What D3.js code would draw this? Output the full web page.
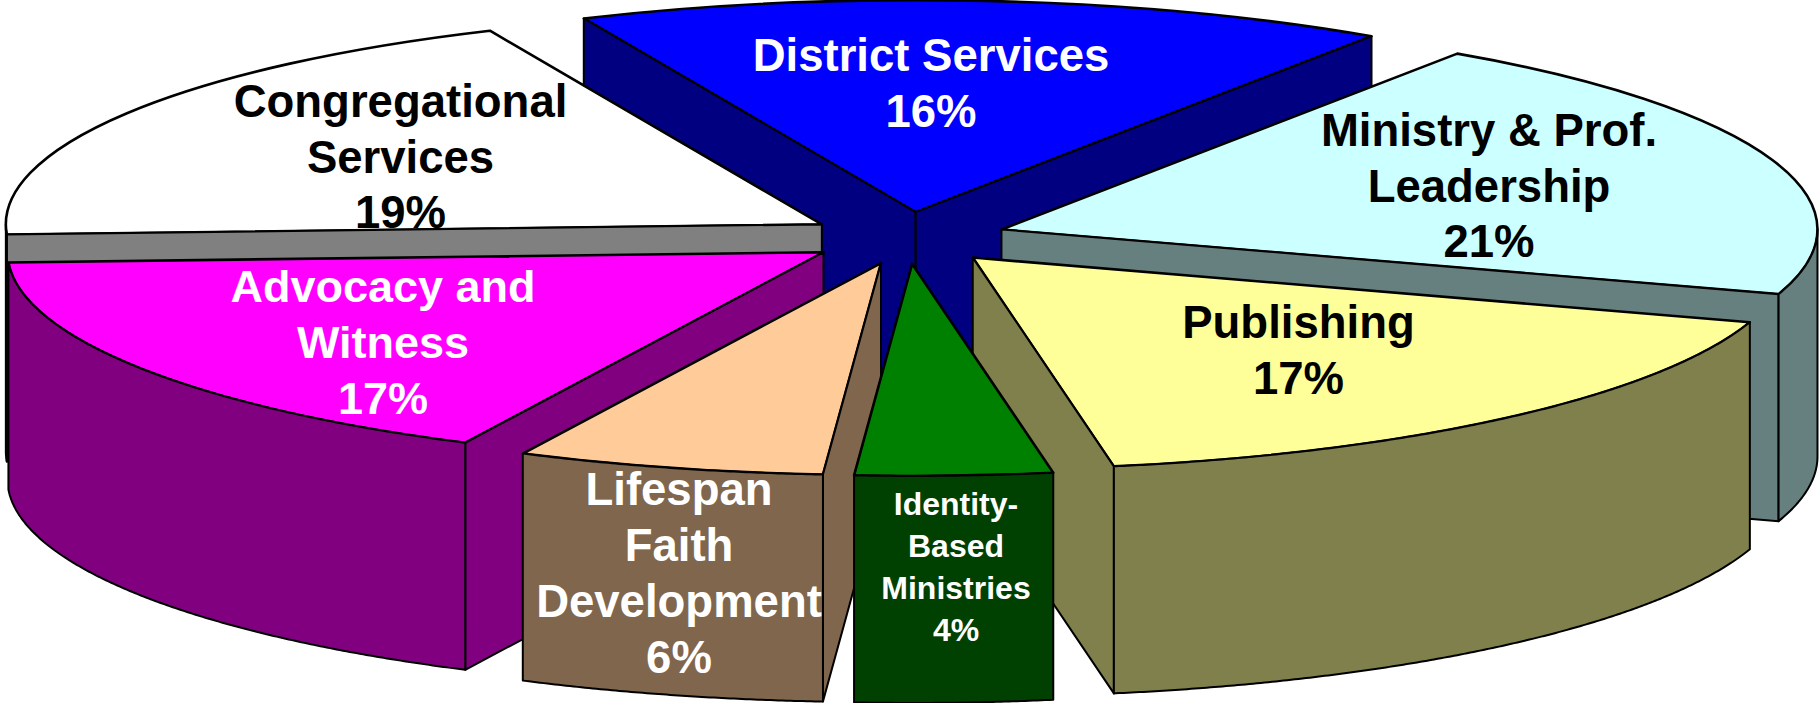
<!DOCTYPE html>
<html>
<head>
<meta charset="utf-8">
<title>Budget pie</title>
<script src="https://cdn.jsdelivr.net/npm/d3@7"></script>
<style>
	html, body { margin: 0; padding: 0; background: #fff; overflow: hidden; }
	svg { display: block; }
	text { font-family: "Liberation Sans", Arial, sans-serif; font-weight: bold; text-anchor: middle; }
</style>
</head>
<body>
<div id="chart"></div>
<script>
"use strict";

// labels show them rounded
const categories = ['District Services', 'Ministry & Prof. Leadership', 'Publishing', 'Identity-Based Ministries', 'Lifespan Faith Development', 'Advocacy and Witness', 'Congregational Services'];
const values = [16.1, 20.5, 17.3, 3.9, 6.1, 17.0, 19.1];
const labelLines = [
	['District Services'],
	['Ministry & Prof.', 'Leadership'],
	['Publishing'],
	['Identity-', 'Based', 'Ministries'],
	['Lifespan', 'Faith', 'Development'],
	['Advocacy and', 'Witness'],
	['Congregational', 'Services']
];
const topColors = ['#0000ff', '#ccffff', '#ffff99', '#008000', '#ffcc99', '#ff00ff', '#ffffff'];
const wallColors = ['#000080', '#668080', '#80804d', '#004000', '#80664d', '#800080', '#808080'];
const textColors = ['#fff', '#000', '#000', '#fff', '#fff', '#fff', '#000'];

const W = 1820, H = 703;
const PIE = { cx: 907, cy: 238, rx: 816, ry: 212, depth: 227, explode: 100, start: -24 * Math.PI / 180 };
const squash = PIE.ry / PIE.rx;

// label anchor: x center, first baseline, line step, font size
const labelPos = [
	{ x: 931, y: 71, dy: 55.5, size: 45.5 },
	{ x: 1489, y: 146, dy: 55.5, size: 45.5 },
	{ x: 1298.5, y: 338, dy: 56, size: 45.5 },
	{ x: 956, y: 515, dy: 42, size: 32 },
	{ x: 679, y: 505, dy: 56, size: 45.5 },
	{ x: 383, y: 302, dy: 56, size: 45 },
	{ x: 400.5, y: 117, dy: 55.5, size: 45.5 }
];
// this one runs under its own side wall in the picture
const underWall = new Set(['Congregational Services']);

const pie = d3.pie().sort(null).value(d => d.value)
	.startAngle(PIE.start).endAngle(PIE.start + 2 * Math.PI);

const slices = pie(categories.map((name, i) => ({ name, value: values[i], i })));

const arc = d3.arc().innerRadius(0).outerRadius(PIE.rx);
const line = d3.line().x(d => d[0]).y(d => d[1]);

slices.forEach(d => {
	let mid = (d.startAngle + d.endAngle) / 2;
	d.ax = PIE.cx + PIE.explode * Math.sin(mid);
	d.ay = PIE.cy - PIE.explode * squash * Math.cos(mid);
	d.rim = a => [d.ax + PIE.rx * Math.sin(a), d.ay - PIE.ry * Math.cos(a)];
});

function cutFace(d, a) {
	let p = d.rim(a);
	return line([[d.ax, d.ay], p, [p[0], p[1] + PIE.depth], [d.ax, d.ay + PIE.depth]]) + 'Z';
}

function rimFace(d) {
	// only the part of the rim that faces the viewer
	let a0 = Math.max(d.startAngle, Math.PI / 2);
	let a1 = Math.min(d.endAngle, Math.PI * 1.5);
	if (a1 <= a0) return null;
	let angles = d3.range(a0, a1, 0.005).concat([a1]);
	let upper = angles.map(d.rim);
	let lower = upper.map(p => [p[0], p[1] + PIE.depth]).reverse();
	return line(upper.concat(lower)) + 'Z';
}

function walls(g, d) {
	let faces = [];
	if (Math.sin(d.startAngle) < 0) faces.push(cutFace(d, d.startAngle));
	if (Math.sin(d.endAngle) > 0) faces.push(cutFace(d, d.endAngle));
	let rim = rimFace(d);
	if (rim) faces.push(rim);
	g.selectAll('path.wall')
		.data(faces)
		.enter().append('path')
		.attr('class', 'wall')
		.attr('d', f => f)
		.attr('fill', wallColors[d.data.i])
		.attr('stroke', '#000')
		.attr('stroke-width', 2)
		.attr('stroke-linejoin', 'round');
}

function label(g, d) {
	let i = d.data.i;
	let pos = labelPos[i];
	let lines = labelLines[i].concat([Math.round(values[i]) + '%']);
	g.selectAll('text')
		.data(lines)
		.enter().append('text')
		.attr('x', pos.x)
		.attr('y', (t, n) => pos.y + n * pos.dy)
		.attr('font-size', pos.size)
		.attr('fill', textColors[i])
		.text(t => t);
}

let svg = d3.select('#chart')
	.append('svg')
	.attr('width', W)
	.attr('height', H);

// back to front
let order = slices.slice().sort((a, b) => a.ay - b.ay);

order.forEach(d => {
	let g = svg.append('g').attr('class', 'slice');

	g.append('path')
		.attr('class', 'top')
		.attr('d', arc(d))
		.attr('transform', `translate(${d.ax},${d.ay}) scale(1,${squash})`)
		.attr('fill', topColors[d.data.i])
		.attr('stroke', '#000')
		.attr('stroke-width', 2.6)
		.attr('stroke-linejoin', 'round')
		.attr('vector-effect', 'non-scaling-stroke');

	if (underWall.has(d.data.name)) {
		label(g, d);
		walls(g, d);
	} else {
		walls(g, d);
		label(g, d);
	}
});
</script>
</body>
</html>
